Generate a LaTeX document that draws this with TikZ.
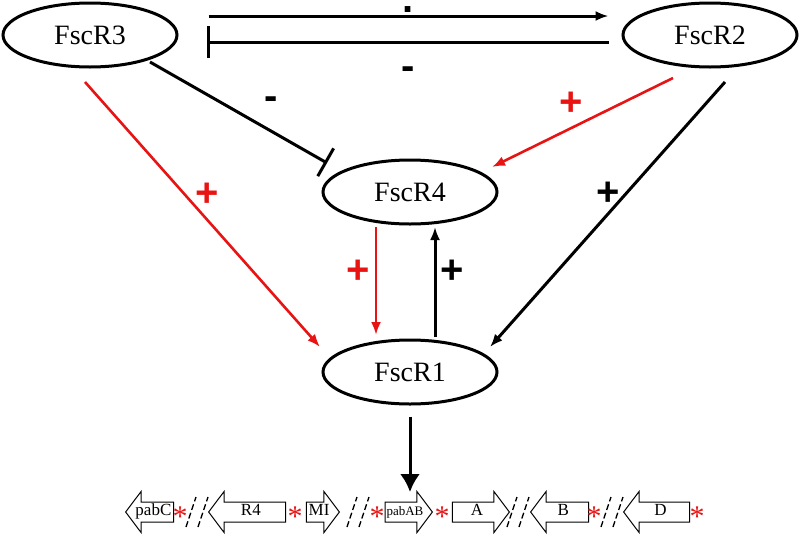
\documentclass[tikz,border=0pt]{standalone}
\usepackage{fontspec}
\setmainfont{Liberation Serif}
\setsansfont{Liberation Sans}
\usetikzlibrary{arrows.meta,positioning,calc,shapes.geometric,shapes.arrows}
\definecolor{actred}{RGB}{232,20,20}
\tikzset{
    protein/.style={draw, ellipse, line width=3pt, minimum width=174pt, minimum height=64pt, inner sep=0pt, font=\fontsize{28}{30}\selectfont},
    actarrow/.style={-{Latex[length=13pt, width=10pt]}, line width=3pt},
    redarrow/.style={-{Latex[length=13pt, width=10pt]}, line width=2.6pt, actred},
    inhibit/.style={-{Bar[width=32pt]}, line width=3pt},
    bigarrow/.style={-{Latex[length=18pt, width=20pt]}, line width=3pt},
    sign/.style={font=\sffamily\bfseries\fontsize{40}{40}\selectfont, inner sep=0pt, text=black},
    redsign/.style={sign, text=actred},
    gene/.style={single arrow, draw, line width=1pt, inner xsep=1pt, inner ysep=3pt, text height=10pt, text depth=3pt, single arrow head extend=10.5pt, single arrow head indent=0pt, single arrow tip angle=106, minimum width=40pt, anchor=tip, font=\fontsize{17}{17}\selectfont},
    geneleft/.style={gene, shape border rotate=180},
    site/.style={text=actred, inner sep=0pt, yshift=-5pt, font=\fontsize{30}{30}\selectfont},
    breakmark/.style={dash pattern=on 6pt off 3pt, line width=1.3pt}
}

\begin{document}
\begin{tikzpicture}[x=1pt, y=-1pt]
    \useasboundingbox (0,0) rectangle (800,536);
    \node[protein] (fscr3) at (90,35) {FscR3};
    \node[protein] (fscr2) at (710,35) {FscR2};
    \node[protein] (fscr4) at (410,192) {FscR4};
    \node[protein, below=113pt of fscr4] (fscr1) {FscR1};

    \draw[actarrow, shorten <=30pt, shorten >=13pt] ([yshift=19pt]fscr3.east) -- node[sign, shift={(8,-6)}] (dot) {.} ([yshift=19pt]fscr2.west);
    \draw[inhibit, shorten <=13pt, shorten >=28pt] ([yshift=-7pt]fscr2.west) -- node[sign, shift={(8,31)}] (minustop) {-} ([yshift=-7pt]fscr3.east);
    \draw[inhibit] ($(fscr3)+(60,27)$) -- node[sign, shift={(32.5,-9)}] (minusmid) {-} ($(fscr4)+(-83,-29)$);
    \draw[redarrow] ($(fscr3)+(-5,47)$) -- node[redsign, shift={(4.5,-19.5)}] (plusa) {+} ($(fscr1)+(-90,-25)$);
    \draw[redarrow] ($(fscr2)+(-37,43)$) -- node[redsign, shift={(-11.5,-18.5)}] (plusb) {+} ($(fscr4)+(82,-25)$);
    \draw[actarrow] ($(fscr2)+(15,47)$) -- node[sign, shift={(0.5,-20.5)}] (plusc) {+} ($(fscr1)+(80,-25)$);
    \draw[redarrow] ($(fscr4)+(-34,35)$) -- node[redsign, shift={(-18,-9)}] (plusd) {+} ($(fscr1)+(-34,-37)$);
    \draw[actarrow] ($(fscr1)+(25,-35)$) -- node[sign, shift={(17,-10)}] (pluse) {+} ($(fscr4)+(25,35)$);

    \node[geneleft, minimum height=48pt] (pabc) at (125,512) {pabC};
    \node[geneleft, minimum height=77pt] (r4) at (208,512) {R4};
    \node[gene, minimum height=33pt] (mi) at (340,512) {MI};
    \node[gene, minimum height=45pt, font=\fontsize{13}{13}\selectfont] (pabab) at (433,512) {pabAB};
    \node[gene, minimum height=57pt] (a) at (510,512) {A};
    \node[geneleft, minimum height=58pt] (b) at (530,512) {B};
    \node[geneleft, minimum height=66pt] (d) at (623,512) {D};
    \foreach \sx [count=\i] in {180,295,377,442,594,697}
        \node[site] (site\i) at (\sx,512) {*};
    \foreach \bx in {191,352,512,606} {
        \draw[breakmark] (\bx-5,527) -- (\bx+5,497);
        \draw[breakmark] (\bx+7,527) -- (\bx+17,497);
    }

    \draw[bigarrow, shorten <=11pt, shorten >=20pt] (fscr1.south) -- (fscr1.south |- pabab.center);
\end{tikzpicture}
\end{document}
